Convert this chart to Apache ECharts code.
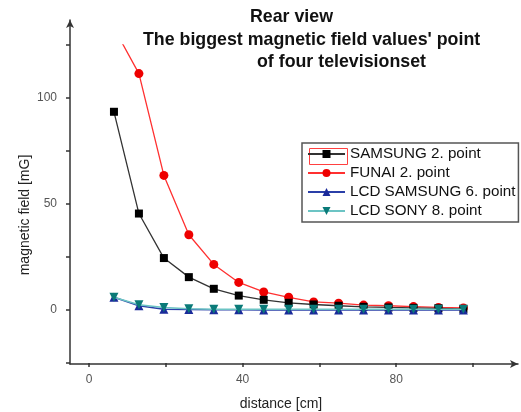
<!DOCTYPE html>
<html>
<head>
<meta charset="utf-8">
<script src="https://cdn.jsdelivr.net/npm/echarts@6/dist/echarts.min.js"></script>
<style>html,body{margin:0;padding:0;background:#fff}#c{width:521px;height:412px}</style>
</head>
<body>
<div id="c"></div>
<script>
var distances = [6.5, 13, 19.5, 26, 32.5, 39, 45.5, 52, 58.5, 65, 71.5, 78, 84.5, 91, 97.5];
var samsung = [93.5, 45.5, 24.5, 15.5, 10, 6.8, 4.8, 3.4, 2.6, 2, 1.5, 1.2, 1, 0.8, 0.5];
var funai = [133, 111.5, 63.5, 35.5, 21.5, 13, 8.5, 6, 3.8, 3.2, 2.3, 2, 1.6, 1.2, 1];
var lcdSamsung = [6, 2, 0.3, 0.2, 0.1, 0.1, 0, 0, 0, 0, 0, 0, 0, 0, 0];
var lcdSony = [6, 2.5, 1.2, 0.6, 0.4, 0.3, 0.3, 0.3, 0.3, 0.3, 0.3, 0.3, 0.3, 0.3, 0.3];
var seriesNames = ['SAMSUNG 2. point', 'FUNAI 2. point', 'LCD SAMSUNG 6. point', 'LCD SONY 8. point'];
var titleLines = ['Rear view', "The biggest magnetic field values' point", 'of four televisionset'];
var xLabels = [0, 40, 80];
var yLabels = [0, 50, 100];

function pairs(ys) { return distances.map(function (d, i) { return [d, ys[i]]; }); }

var font = 'Liberation Sans, Arial, sans-serif';
var chart = echarts.init(document.getElementById('c'), null, {renderer: 'canvas'});
var titleStyle = {fontFamily: font, fontWeight: 'bold', fontSize: 17.8, color: '#111'};

chart.setOption({
  animation: false,
  title: [
    {text: titleLines[0], left: 250, top: 8, padding: 0, textStyle: titleStyle},
    {text: titleLines[1], left: 143, top: 31, padding: 0, textStyle: titleStyle},
    {text: titleLines[2], left: 257, top: 53, padding: 0, textStyle: titleStyle}
  ],
  grid: [
    {left: 89, right: 48, top: 45, bottom: 49, outerBoundsMode: 'none', containLabel: false},
    {left: 70, right: 3, top: 20, bottom: 48, outerBoundsMode: 'none', containLabel: false}
  ],
  legend: {
    orient: 'vertical', left: 302, top: 143,
    padding: [3, 3, 3, 5], itemGap: 3, itemWidth: 37, itemHeight: 10,
    borderColor: '#555', borderWidth: 1.5,
    textStyle: {fontFamily: font, fontSize: 15.2, lineHeight: 16, color: '#111'},
    data: seriesNames
  },
  graphic: [
    {type: 'rect', left: 307, top: 146, shape: {width: 38, height: 16},
      style: {fill: 'none', stroke: '#ff4040', lineWidth: 1}, silent: true}
  ],
  xAxis: [
    {
      gridIndex: 0, type: 'value', min: 0, max: 100, interval: 20,
      name: 'distance [cm]', nameLocation: 'middle', nameGap: 34,
      nameTextStyle: {fontFamily: font, fontSize: 14, color: '#222'},
      axisLine: {show: false, onZero: false},
      axisTick: {show: true, length: 4, lineStyle: {color: '#333', width: 1.5}},
      axisLabel: {fontFamily: font, fontSize: 12, color: '#555', margin: 11,
        formatter: function (v) { return xLabels.indexOf(v) >= 0 ? String(v) : ''; }},
      splitLine: {show: false}
    },
    {
      gridIndex: 1, type: 'value', min: 0, max: 1,
      axisLine: {show: true, onZero: false, symbol: ['none', 'arrow'], symbolSize: [6, 8], lineStyle: {color: '#333', width: 1.5}},
      axisTick: {show: false}, axisLabel: {show: false}, splitLine: {show: false}
    }
  ],
  yAxis: [
    {
      gridIndex: 0, type: 'value', min: -25, max: 125, interval: 25, offset: 19,
      name: 'magnetic field [mG]', nameLocation: 'middle', nameGap: 38, nameMoveOverlap: false,
      nameTextStyle: {fontFamily: font, fontSize: 14, color: '#222', padding: [0, 22, 0, 0]},
      axisLine: {show: false, onZero: false},
      axisTick: {show: true, length: 4, lineStyle: {color: '#333', width: 1.5}},
      axisLabel: {fontFamily: font, fontSize: 12, color: '#555', margin: 13,
        formatter: function (v) { return yLabels.indexOf(v) >= 0 ? String(v) : ''; }},
      splitLine: {show: false}
    },
    {
      gridIndex: 1, type: 'value', min: 0, max: 1,
      axisLine: {show: true, onZero: false, symbol: ['none', 'arrow'], symbolSize: [6, 8], lineStyle: {color: '#333', width: 1.5}},
      axisTick: {show: false}, axisLabel: {show: false}, splitLine: {show: false}
    }
  ],
  series: [
    {name: seriesNames[0], type: 'line', data: pairs(samsung), symbol: 'rect', symbolSize: 8,
      lineStyle: {color: '#333', width: 1.3}, itemStyle: {color: '#000'}, z: 3},
    {name: seriesNames[1], type: 'line', data: pairs(funai), symbol: 'circle', symbolSize: 9,
      lineStyle: {color: '#ff3030', width: 1.3}, itemStyle: {color: '#ee0000'}, z: 2},
    {name: seriesNames[2], type: 'line', data: pairs(lcdSamsung), symbol: 'triangle', symbolSize: 9,
      lineStyle: {color: '#2a3fa8', width: 1.5}, itemStyle: {color: '#1a2a9a'}, z: 4},
    {name: seriesNames[3], type: 'line', data: pairs(lcdSony), symbol: 'triangle', symbolRotate: 180, symbolSize: 9,
      lineStyle: {color: '#6cc4c4', width: 1.5}, itemStyle: {color: '#0a7a78'}, z: 5}
  ]
});
</script>
</body>
</html>
